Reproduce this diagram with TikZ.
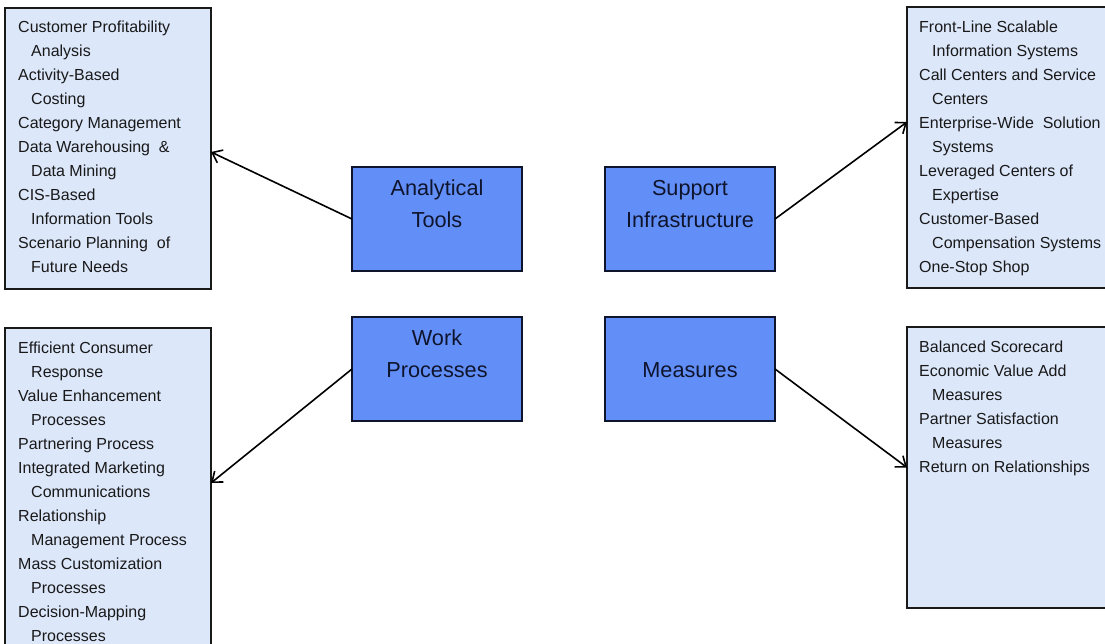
\documentclass[tikz,border=0pt]{standalone}
\usepackage{fontspec}
\setmainfont{Liberation Sans}
\usetikzlibrary{arrows.meta}
\definecolor{sidefill}{RGB}{220,231,250}
\definecolor{corefill}{RGB}{98,143,247}
\definecolor{txt}{RGB}{25,25,25}
\definecolor{coretxt}{RGB}{15,20,45}
\newcommand\indline{\hspace*{13pt}}
\begin{document}
\begin{tikzpicture}[x=1pt,y=-1pt,
  sidebox/.style={draw=black!90,line width=2pt,fill=sidefill,inner sep=0pt,outer sep=0pt},
  corebox/.style={draw=coretxt,line width=2pt,fill=corefill,minimum width=170pt,minimum height=104pt,inner sep=0pt,outer sep=0pt},
  sidetext/.style={anchor=north west,inner sep=0pt,align=left,text=txt,font=\fontsize{16}{24}\selectfont},
  coretext/.style={anchor=north,inner sep=0pt,align=center,text=coretxt,font=\fontsize{21.7}{32}\selectfont},
  link/.style={line width=1.6pt,-{Straight Barb[length=9pt,width=14pt]}}]
\useasboundingbox (0,0) rectangle (1105,644);
\clip (0,0) rectangle (1105,644);
\fill[white] (0,0) rectangle (1105,644);

% side boxes
\node[sidebox,minimum width=206pt,minimum height=281pt] (tl) at (108,148.5) {};
\node[sidebox,minimum width=213pt,minimum height=281pt] (tr) at (1013.5,147.5) {};
\node[sidebox,minimum width=206pt,minimum height=332pt] (bl) at (108,494) {};
\node[sidebox,minimum width=213pt,minimum height=281pt] (br) at (1013.5,467.5) {};

\node[sidetext] (tltext) at (18,21) {Customer Profitability\\\indline Analysis\\Activity-Based\\\indline Costing\\Category Management\\Data Warehousing \ \&\\\indline Data Mining\\CIS-Based\\\indline Information Tools\\Scenario Planning \ of\\\indline Future Needs};
\node[sidetext] (trtext) at (919,21) {Front-Line Scalable\\\indline Information Systems\\Call Centers and Service\\\indline Centers\\Enterprise-Wide \ Solution\\\indline Systems\\Leveraged Centers of\\\indline Expertise\\Customer-Based\\\indline Compensation Systems\\One-Stop Shop};
\node[sidetext] (bltext) at (18,342) {Efficient Consumer\\\indline Response\\Value Enhancement\\\indline Processes\\Partnering Process\\Integrated Marketing\\\indline Communications\\Relationship\\\indline Management Process\\Mass Customization\\\indline Processes\\Decision-Mapping\\\indline Processes};
\node[sidetext] (brtext) at (919,341) {Balanced Scorecard\\Economic Value Add\\\indline Measures\\Partner Satisfaction\\\indline Measures\\Return on Relationships};

% core boxes
\node[corebox] (at) at (437,219) {};
\node[corebox] (si) at (690,219) {};
\node[corebox] (wp) at (437,369) {};
\node[corebox] (ms) at (690,369) {};

\node[coretext] (attext) at (437,180) {Analytical\\Tools};
\node[coretext] (sitext) at (690,180) {Support\\Infrastructure};
\node[coretext] (wptext) at (437,330) {Work\\Processes};
\node[coretext] (mstext) at (690,362) {Measures};

% connectors
\draw[link] (at.west) -- ([yshift=-3.5pt]tl.east);
\draw[link] (si.east) -- ([yshift=25.5pt]tr.west);
\draw[link] (wp.west) -- (bl.north east |- 0,483);
\draw[link] (ms.east) -- (br.west);
\end{tikzpicture}
\end{document}
